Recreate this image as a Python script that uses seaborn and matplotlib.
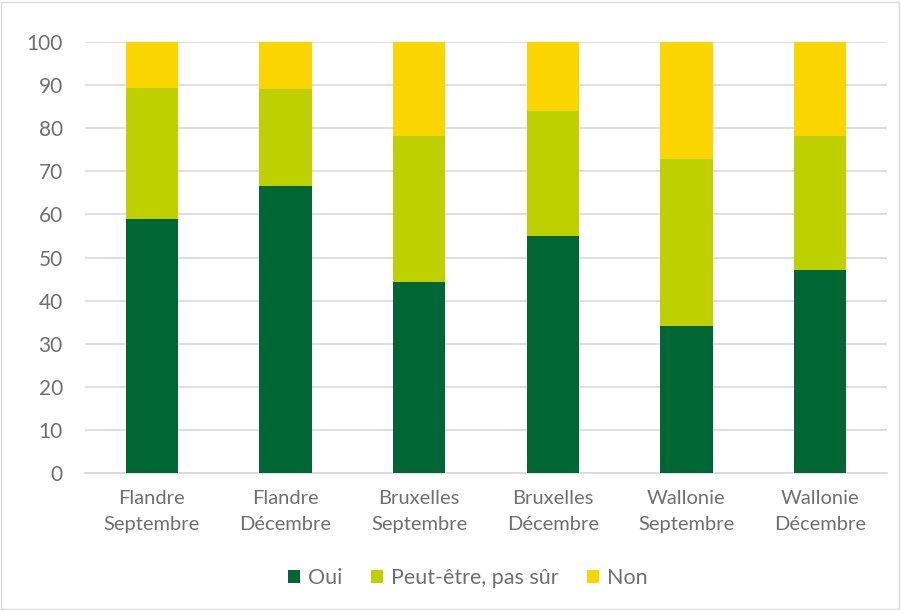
import matplotlib
matplotlib.use("Agg")
import matplotlib.pyplot as plt
import seaborn as sns
import pandas as pd
import numpy as np
from matplotlib.patches import Patch, Rectangle

categories = ["Flandre\nSeptembre", "Flandre\nDécembre", "Bruxelles\nSeptembre",
              "Bruxelles\nDécembre", "Wallonie\nSeptembre", "Wallonie\nDécembre"]
oui = [58.9, 66.7, 44.4, 55.0, 34.2, 47.1]
peut = [30.5, 22.5, 33.8, 28.9, 38.7, 31.1]
non = [10.6, 10.8, 21.8, 16.1, 27.1, 21.8]
series = ["Oui", "Peut-être, pas sûr", "Non"]
colors = ["#006633", "#bed000", "#fad500"]
yticks = [0, 10, 20, 30, 40, 50, 60, 70, 80, 90, 100]

sns.set_theme(style="white")
plt.rcParams["font.family"] = ["Lato", "DejaVu Sans"]

df = pd.DataFrame({"cat": categories, "oui": oui, "peut": peut, "non": non})
df["c1"] = df["oui"]
df["c2"] = df["oui"] + df["peut"]
df["c3"] = df["oui"] + df["peut"] + df["non"]

fig = plt.figure(figsize=(9.01, 6.10), dpi=100)
ax = fig.add_axes([85/901, 1 - 473/610, 802/901, 431/610])

for col, c in zip(["c3", "c2", "c1"], colors[::-1]):
    sns.barplot(data=df, x="cat", y=col, color=c, width=0.39, ax=ax,
                saturation=1, linewidth=0, zorder=3)

txt = "#707070"
ax.set_ylim(0, 100)
ax.set_xlim(-0.5, 5.5)
ax.set_yticks(yticks)
ax.set_yticklabels([str(v) for v in yticks])
ax.yaxis.grid(True, color="#d9d9d9", linewidth=1.2, zorder=0)
ax.set_axisbelow(True)
for s in ["top", "right", "left"]:
    ax.spines[s].set_visible(False)
ax.spines["bottom"].set_color("#d9d9d9")
ax.spines["bottom"].set_linewidth(1.2)
ax.set_xlabel("")
ax.set_ylabel("")
ax.tick_params(axis="both", length=0, colors=txt)
ax.tick_params(axis="y", pad=16, labelsize=15)
ax.tick_params(axis="x", pad=12, labelsize=14.5)
for t in ax.get_xticklabels():
    t.set_linespacing(1.65)

handles = [Patch(facecolor=c, edgecolor="none") for c in colors]
leg = fig.legend(handles, series, loc="center", bbox_to_anchor=(468/901, 1 - 578/610),
                 ncol=3, frameon=False, fontsize=15.5, handlelength=0.55,
                 handleheight=0.55, handletextpad=0.4, columnspacing=1.3)
for t in leg.get_texts():
    t.set_color(txt)

fig.patches.append(Rectangle((1/901, 1/610), 898/901, 607/610, transform=fig.transFigure,
                             fill=False, edgecolor="#d9d9d9", linewidth=1))

fig.savefig("out.png", dpi=100)
